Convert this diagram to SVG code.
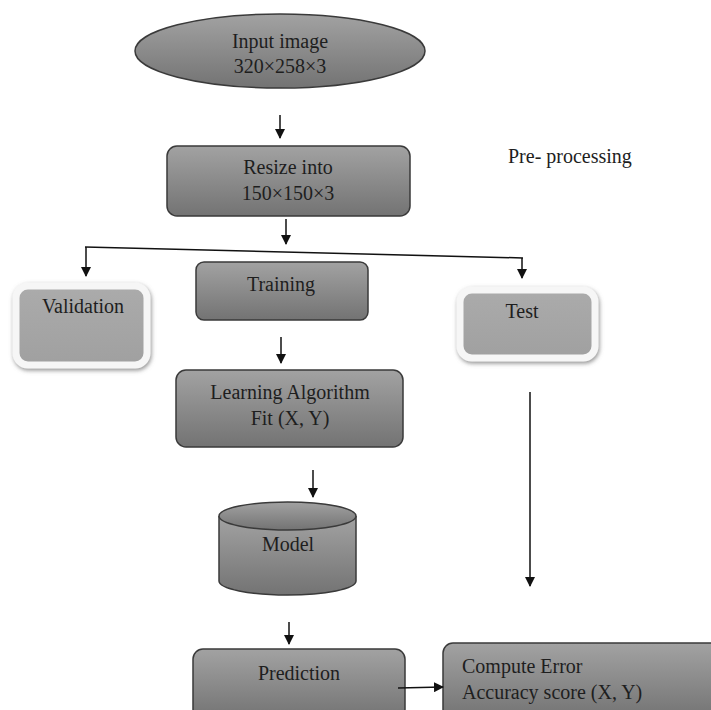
<svg xmlns="http://www.w3.org/2000/svg" width="711" height="710" viewBox="0 0 711 710">
<defs>
<linearGradient id="g" x1="0" y1="0" x2="0" y2="1">
<stop offset="0" stop-color="#a2a2a2"/>
<stop offset="1" stop-color="#737373"/>
</linearGradient>
<linearGradient id="gl" x1="0" y1="0" x2="0" y2="1">
<stop offset="0" stop-color="#ababab"/>
<stop offset="1" stop-color="#a0a0a0"/>
</linearGradient>
<filter id="sh" x="-20%" y="-20%" width="140%" height="140%">
<feDropShadow dx="1" dy="2" stdDeviation="2" flood-color="#777" flood-opacity="0.8"/>
</filter>
<marker id="ah" markerWidth="10" markerHeight="10" refX="9" refY="5" orient="auto" markerUnits="userSpaceOnUse">
<path d="M0,0 L10,5 L0,10 z" fill="#111"/>
</marker>
</defs>
<style>
.box{fill:url(#g);stroke:#3a3a3a;stroke-width:1.5}
.soft{fill:url(#gl);stroke:#f6f6f6;stroke-width:7}
.t{font-family:"Liberation Serif","Times New Roman",serif;font-size:20px;fill:#1e1e1e;text-anchor:middle}
.tl{font-family:"Liberation Serif","Times New Roman",serif;font-size:20px;fill:#1e1e1e}
.c{stroke:#111;stroke-width:1.5;fill:none}
.ca{stroke:#111;stroke-width:1.5;fill:none;marker-end:url(#ah)}
</style>
<rect width="711" height="710" fill="#ffffff"/>

<g id="input">
<ellipse class="box" cx="280" cy="51" rx="145" ry="37"/>
<text class="t" x="280" y="48">Input image</text>
<text class="t" x="280" y="73">320×258×3</text>
</g>

<g id="resize">
<rect class="box" x="167" y="146" width="243" height="70" rx="10"/>
<text class="t" x="288" y="174">Resize into</text>
<text class="t" x="288" y="200">150×150×3</text>
</g>

<g id="preprocessing">
<text class="tl" x="508" y="163">Pre- processing</text>
</g>

<g id="validation">
<rect class="soft" x="16" y="286" width="131" height="79" rx="12" filter="url(#sh)"/>
<text class="t" x="83" y="313">Validation</text>
</g>

<g id="training">
<rect class="box" x="196" y="262" width="172" height="58" rx="8"/>
<text class="t" x="281" y="291">Training</text>
</g>

<g id="test">
<rect class="soft" x="460" y="290" width="135" height="68" rx="12" filter="url(#sh)"/>
<text class="t" x="522" y="318">Test</text>
</g>

<g id="learning">
<rect class="box" x="176" y="370" width="227" height="77" rx="10"/>
<text class="t" x="290" y="399">Learning Algorithm</text>
<text class="t" x="290" y="425">Fit (X, Y)</text>
</g>

<g id="model">
<path class="box" d="M219,516 L219,581 A68.5,14 0 0 0 356,581 L356,516"/>
<ellipse class="box" cx="287.5" cy="516" rx="68.5" ry="14"/>
<text class="t" x="288" y="551">Model</text>
</g>

<g id="prediction">
<rect class="box" x="193" y="649" width="212" height="70" rx="10"/>
<text class="t" x="299" y="680">Prediction</text>
</g>

<g id="compute">
<rect class="box" x="443" y="643" width="280" height="76" rx="10"/>
<text class="tl" x="462" y="673">Compute Error</text>
<text class="tl" x="462" y="699">Accuracy score (X, Y)</text>
</g>

<g id="connectors">
<line class="ca" x1="280" y1="115" x2="280" y2="138"/>
<line class="ca" x1="286" y1="219" x2="286" y2="244"/>
<line class="c" x1="85" y1="247" x2="523" y2="258"/>
<line class="ca" x1="86" y1="247" x2="86" y2="276"/>
<line class="ca" x1="522" y1="258" x2="522" y2="278"/>
<line class="ca" x1="281" y1="337" x2="281" y2="363"/>
<line class="ca" x1="313" y1="470" x2="313" y2="497"/>
<line class="ca" x1="530" y1="392" x2="530" y2="586"/>
<line class="ca" x1="289" y1="622" x2="289" y2="644"/>
<line class="ca" x1="398" y1="688" x2="443" y2="687"/>
</g>
</svg>
